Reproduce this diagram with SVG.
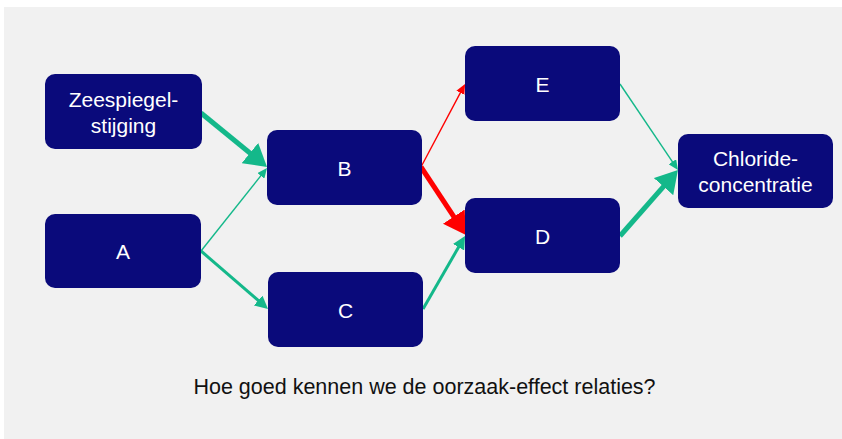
<svg xmlns="http://www.w3.org/2000/svg" width="842" height="439" viewBox="0 0 842 439">
  <style>
    .node rect { fill: #0a0a7b; }
    .node text { fill: #ffffff; font-family: "Liberation Sans", Arial, sans-serif; font-size: 21px; text-anchor: middle; }
    .g { stroke: #14b88a; fill: none; }
    .r { stroke: #ff0000; fill: none; }
    .thick { stroke-width: 5; }
    .med { stroke-width: 3; }
    .thin { stroke-width: 1.4; }
    .caption { fill: #111111; font-family: "Liberation Sans", Arial, sans-serif; font-size: 21.5px; text-anchor: middle; }
  </style>
  <defs>
    <marker id="gThick" markerUnits="userSpaceOnUse" markerWidth="22" markerHeight="26" refX="11" refY="13" orient="auto">
      <path d="M0,0 L22,13 L0,26 Z" fill="#14b88a"/>
    </marker>
    <marker id="gMed" markerUnits="userSpaceOnUse" markerWidth="13" markerHeight="13" refX="6.5" refY="6.5" orient="auto">
      <path d="M0,0 L13,6.5 L0,13 Z" fill="#14b88a"/>
    </marker>
    <marker id="gThin" markerUnits="userSpaceOnUse" markerWidth="10" markerHeight="9" refX="5" refY="4.5" orient="auto">
      <path d="M0,0 L10,4.5 L0,9 Z" fill="#14b88a"/>
    </marker>
    <marker id="rThick" markerUnits="userSpaceOnUse" markerWidth="22" markerHeight="26" refX="11" refY="13" orient="auto">
      <path d="M0,0 L22,13 L0,26 Z" fill="#ff0000"/>
    </marker>
    <marker id="rThin" markerUnits="userSpaceOnUse" markerWidth="10" markerHeight="9" refX="5" refY="4.5" orient="auto">
      <path d="M0,0 L10,4.5 L0,9 Z" fill="#ff0000"/>
    </marker>
  </defs>
  <rect x="0" y="0" width="842" height="439" fill="#ffffff"/>
  <rect x="4" y="7" width="838" height="432" fill="#f1f1f1"/>

  <g id="connectors">
    <path class="g thick" d="M201,113 L258.5,160" marker-end="url(#gThick)"/>
    <path class="g thin" d="M201,251 L263.9,171.9" marker-end="url(#gThin)"/>
    <path class="g med" d="M201,251 L263.1,304.7" marker-end="url(#gMed)"/>
    <path class="r thin" d="M421,167 L462.7,88.4" marker-end="url(#rThin)"/>
    <path class="r thick" d="M421,167 L459.9,225.8" marker-end="url(#rThick)"/>
    <path class="g med" d="M423,309 L461.8,241.6" marker-end="url(#gMed)"/>
    <path class="g thin" d="M620,84 L675.2,165.9" marker-end="url(#gThin)"/>
    <path class="g thick" d="M620,236 L670.7,178.3" marker-end="url(#gThick)"/>
  </g>

  <g id="node-zeespiegel" class="node">
    <rect x="45" y="74" width="157" height="75" rx="10"/>
    <text x="123.5" y="107">Zeespiegel-</text>
    <text x="123.5" y="133">stijging</text>
  </g>
  <g id="node-A" class="node">
    <rect x="45" y="214" width="156" height="74" rx="10"/>
    <text x="123" y="258.5">A</text>
  </g>
  <g id="node-B" class="node">
    <rect x="267" y="130" width="155" height="75" rx="10"/>
    <text x="344.5" y="175.5">B</text>
  </g>
  <g id="node-C" class="node">
    <rect x="268" y="272" width="155" height="75" rx="10"/>
    <text x="345.5" y="317.5">C</text>
  </g>
  <g id="node-E" class="node">
    <rect x="465" y="46" width="155" height="75" rx="10"/>
    <text x="542.5" y="91.5">E</text>
  </g>
  <g id="node-D" class="node">
    <rect x="465" y="198" width="155" height="75" rx="10"/>
    <text x="542.5" y="243.5">D</text>
  </g>
  <g id="node-chloride" class="node">
    <rect x="678" y="134" width="155" height="74" rx="10"/>
    <text x="755.5" y="166">Chloride-</text>
    <text x="755.5" y="192">concentratie</text>
  </g>

  <text class="caption" x="424.5" y="394">Hoe goed kennen we de oorzaak-effect relaties?</text>
</svg>
